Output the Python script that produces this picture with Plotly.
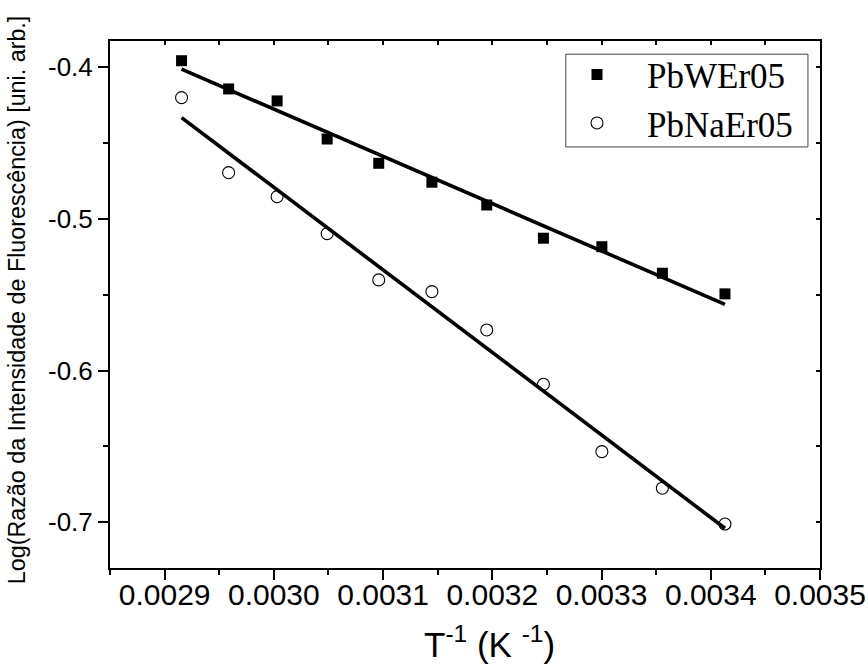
import plotly.graph_objects as go

# 1/T values (K^-1)
inv_t = [0.0029155, 0.0029586, 0.0030030, 0.0030488, 0.0030960, 0.0031447,
         0.0031949, 0.0032468, 0.0033003, 0.0033557, 0.0034130]

pbwer05 = [-0.3957, -0.4143, -0.4222, -0.4473, -0.4633, -0.4758,
           -0.4908, -0.5127, -0.5183, -0.5358, -0.5494]
pbnaer05 = [-0.4200, -0.4695, -0.4853, -0.5097, -0.5402, -0.5479,
            -0.5732, -0.6090, -0.6534, -0.6775, -0.7011]

# linear fit end points
fit_x = [0.0029155, 0.0034130]
fit_pbwer05 = [-0.4013, -0.5563]
fit_pbnaer05 = [-0.4332, -0.7039]

x_ticks = [0.0029, 0.0030, 0.0031, 0.0032, 0.0033, 0.0034, 0.0035]
x_labels = ['0.0029', '0.0030', '0.0031', '0.0032', '0.0033', '0.0034', '0.0035']
y_ticks = [-0.4, -0.5, -0.6, -0.7]
y_labels = ['-0.4', '-0.5', '-0.6', '-0.7']

x_range = [0.00285, 0.0035]
y_range = [-0.7301, -0.3827]

fig = go.Figure()

fig.add_trace(go.Scatter(x=fit_x, y=fit_pbwer05, mode='lines',
                         line=dict(color='black', width=3.6), showlegend=False))
fig.add_trace(go.Scatter(x=fit_x, y=fit_pbnaer05, mode='lines',
                         line=dict(color='black', width=3.6), showlegend=False))
fig.add_trace(go.Scatter(x=inv_t, y=pbwer05, mode='markers', name='PbWEr05',
                         marker=dict(symbol='square', size=11, color='black',
                                     line=dict(width=0))))
fig.add_trace(go.Scatter(x=inv_t, y=pbnaer05, mode='markers', name='PbNaEr05',
                         marker=dict(symbol='circle-open', size=12, color='black',
                                     line=dict(width=1.1, color='black'))))

# dummy trace so the mirror axes get drawn
fig.add_trace(go.Scatter(x=[None], y=[None], xaxis='x2', yaxis='y2',
                         showlegend=False, hoverinfo='skip'))

fig.update_layout(
    width=868, height=665,
    margin=dict(l=110, r=48, t=41, b=97),
    paper_bgcolor='white', plot_bgcolor='white',
    font=dict(family='Liberation Sans, Arial', color='black'),
    xaxis=dict(range=x_range, tickvals=x_ticks, ticktext=x_labels,
               ticks='outside', ticklen=10, tickwidth=2, tickcolor='black',
               minor=dict(ticks='outside', ticklen=5, tickwidth=2, tickcolor='black',
                          dtick=0.00005, tick0=0.0029),
               showline=True, linewidth=2, linecolor='black', showgrid=False,
               zeroline=False, automargin=False, ticklabelstandoff=-11,
               tickfont=dict(family='Liberation Sans, Arial', size=30, color='black')),
    yaxis=dict(range=y_range, tickvals=y_ticks, ticktext=y_labels,
               ticks='outside', ticklen=10, tickwidth=2, tickcolor='black',
               minor=dict(ticks='outside', ticklen=5, tickwidth=2, tickcolor='black',
                          dtick=0.05, tick0=-0.4),
               showline=True, linewidth=2, linecolor='black', showgrid=False,
               zeroline=False, automargin=False,
               tickfont=dict(family='Liberation Sans, Arial', size=26, color='black')),
    xaxis2=dict(overlaying='x', matches='x', side='top', range=x_range,
                tickvals=x_ticks, ticks='inside', ticklen=4, tickwidth=1.5,
                tickcolor='black', showticklabels=False,
                minor=dict(ticks='inside', ticklen=4, tickwidth=1.5, tickcolor='black',
                           dtick=0.00005, tick0=0.0029),
                showline=True, linewidth=2, linecolor='black', showgrid=False,
                zeroline=False, automargin=False),
    yaxis2=dict(overlaying='y', matches='y', side='right', range=y_range,
                tickvals=y_ticks, ticks='inside', ticklen=4, tickwidth=1.5,
                tickcolor='black', showticklabels=False,
                minor=dict(ticks='inside', ticklen=4, tickwidth=1.5, tickcolor='black',
                           dtick=0.05, tick0=-0.4),
                showline=True, linewidth=2, linecolor='black', showgrid=False,
                zeroline=False, automargin=False),
    legend=dict(x=0.6155, y=0.992, xanchor='left', yanchor='top',
                bgcolor='rgba(0,0,0,0)', borderwidth=0,
                font=dict(family='Liberation Serif, Times New Roman', size=35),
                itemsizing='trace', itemwidth=90, tracegroupgap=0),
    # legend frame drawn separately so it can be tighter than plotly's own
    shapes=[dict(type='rect', xref='paper', yref='paper',
                 x0=0.642, x1=0.983, y0=0.799, y1=0.975,
                 line=dict(color='#444', width=1), fillcolor='white', layer='below')],
    annotations=[
        dict(text='T<sup>-1</sup> (K <sup>-1</sup>)', xref='paper', yref='paper',
             x=0.534, y=-0.186, xanchor='center', yanchor='bottom', showarrow=False,
             font=dict(family='Liberation Sans, Arial', size=35, color='black')),
        dict(text='Log(Razão da Intensidade de Fluorescência) [uni. arb.]',
             xref='paper', yref='paper', x=-0.131, y=0.51, textangle=-90,
             xanchor='center', yanchor='middle', showarrow=False,
             font=dict(family='Liberation Sans, Arial', size=23.3, color='black')),
    ],
)

# drop the default page margin so the figure fills the window
fig.write_html("out.html", config={'displayModeBar': False},
               post_script="document.body.style.margin='0';")
